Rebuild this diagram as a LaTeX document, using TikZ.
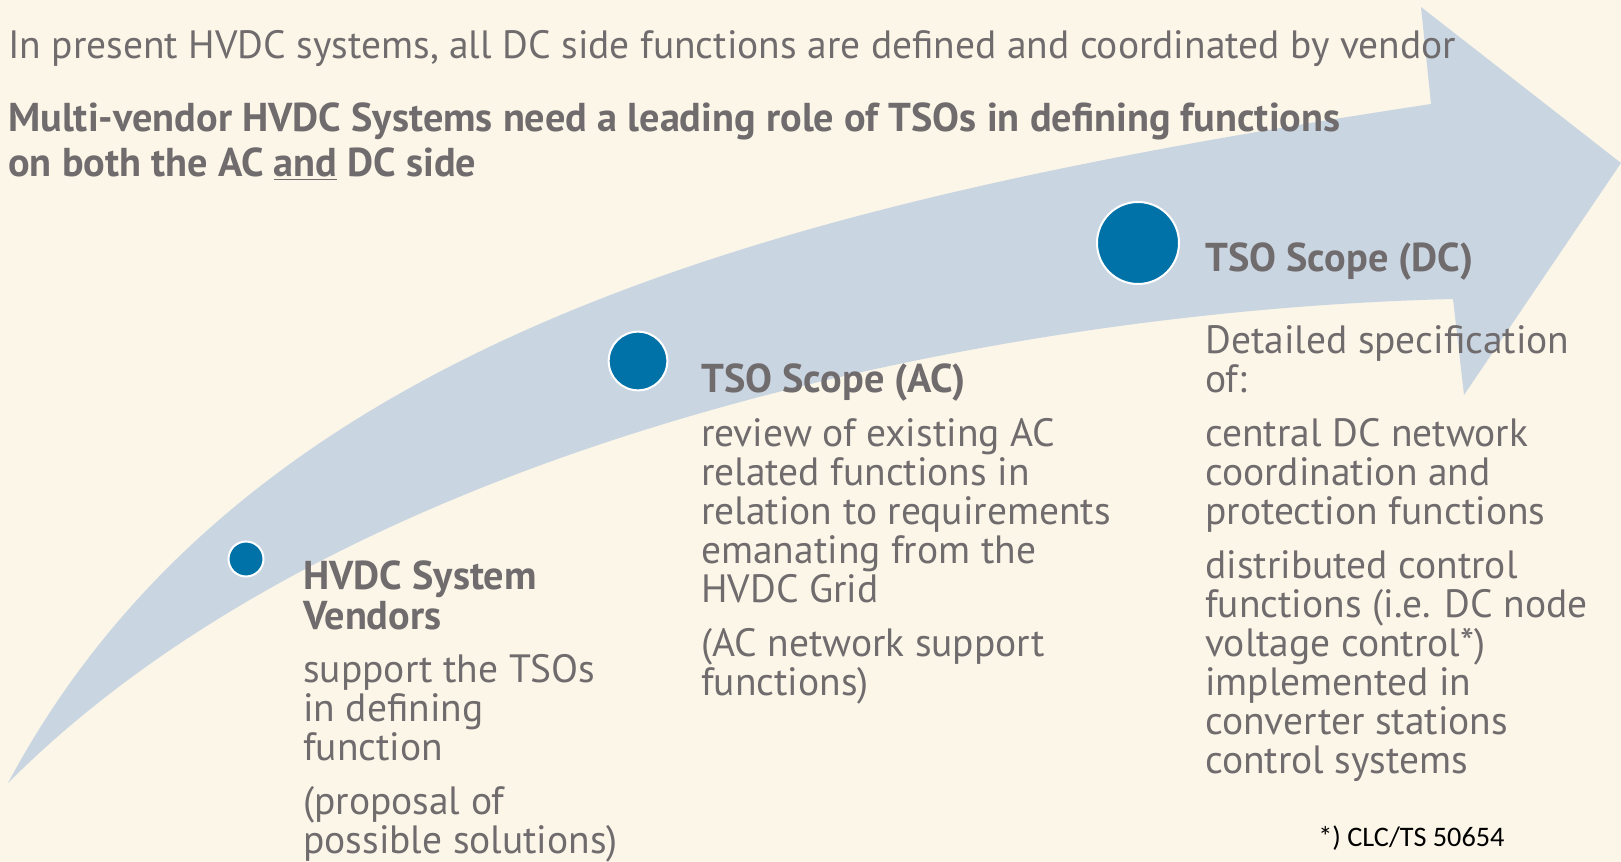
\documentclass[tikz,border=0pt]{standalone}
\usepackage{fontspec}
\setmainfont{PT Sans}
\newfontfamily\notefont{Carlito}
\definecolor{bgcream}{RGB}{251,246,232}
\definecolor{arrowblue}{RGB}{202,213,226}
\definecolor{dotblue}{RGB}{0,114,168}
\definecolor{txtgray}{RGB}{112,107,109}
\tikzset{
  dot/.style={circle,fill=dotblue,draw=white,line width=1.5pt,inner sep=0pt},
  head/.style={anchor=base west,inner sep=0pt,text=txtgray,align=left,font=\bfseries\fontsize{30.2}{30}\selectfont},
  body/.style={anchor=base west,inner sep=0pt,text=txtgray,align=left,font=\fontsize{29.6}{29.25}\selectfont},
}
% multi-line nodes sit on the baseline of their last line
\begin{document}
\begin{tikzpicture}[x=0.75pt,y=-0.75pt]
	% background and frame size
	\fill[bgcream] (0,0) rectangle (1621,862);
	\useasboundingbox (0,0) rectangle (1621,862);
	% big curved arrow
	\fill[arrowblue] (8,783) .. controls (250,330) and (800,200) .. (1431,104)
		-- (1421,7) -- (1621,163) -- (1464,395) -- (1453,299)
		.. controls (1000,310) and (350,440) .. (8,783) -- cycle;
	% headline
	\node[body] (intro) at (8,59) {In present HVDC systems, all DC side functions are defined and coordinated by vendor};
	\node[head,font=\bfseries\fontsize{30.2}{33.75}\selectfont] (claim) at (8,177) {Multi-vendor HVDC Systems need a leading role of TSOs in defining functions\\
		on both the AC \underline{and} DC side};
	% steps
	\node[dot,minimum size=26.25pt] (d1) at (246,559) {};
	\node[dot,minimum size=44pt] (d2) at (638,361) {};
	\node[dot,minimum size=61.5pt] (d3) at (1138,243) {};
	\node[head] (t1) at (303,629) {HVDC System\\Vendors};
	\node[body] (b1) at (303,853) {support the TSOs\\in defining\\function\\[11pt](proposal of\\possible solutions)};
	\node[head] (t2) at (701,393) {TSO Scope (AC)};
	\node[body] (b2) at (701,695) {review of existing AC\\related functions in\\relation to requirements\\emanating from the\\HVDC Grid\\[11pt](AC network support\\functions)};
	\node[head] (t3) at (1205,272) {TSO Scope (DC)};
	\node[body] (b3) at (1205,773) {Detailed specification\\of:\\[11pt]central DC network\\coordination and\\protection functions\\[11pt]distributed control\\functions (i.e. DC node\\voltage control*)\\implemented in\\converter stations\\control systems};
	\node[anchor=base west,inner sep=0pt,font=\notefont\fontsize{21.2}{24}\selectfont] (note) at (1318,846) {*) CLC/TS 50654};
\end{tikzpicture}
\end{document}
